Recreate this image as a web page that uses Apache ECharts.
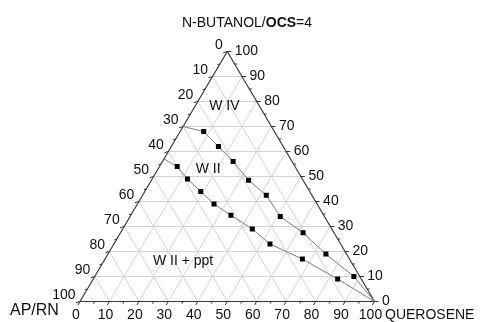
<!DOCTYPE html>
<html><head><meta charset="utf-8">
<script src="https://cdn.jsdelivr.net/npm/echarts@6/dist/echarts.min.js"></script>
<style>html,body{margin:0;padding:0;background:#fff}#c{width:480px;height:322px}</style>
</head><body><div id="c"></div>
<script>
// ---- data ----
const titleParts = ['N-BUTANOL/', 'OCS', '=4'];
const bottomAxisName = 'QUEROSENE';
const leftAxisName = 'AP/RN';
const majorTicks = [0, 10, 20, 30, 40, 50, 60, 70, 80, 90, 100];
const minorTicks = [5, 15, 25, 35, 45, 55, 65, 75, 85, 95];
const gridLevels = [10, 20, 30, 40, 50, 60, 70, 80, 90];
// tie lines: querosene % (bottom axis) and n-butanol/OCS % (right axis); AP/RN = 100 - both
const upperQuerosene = [0, 8, 16, 24, 33, 42, 51, 62, 74, 88, 100];
const upperButanol   = [70, 68, 62, 56, 48.5, 42.5, 34, 27.5, 19, 10, 0];
const lowerQuerosene = [0, 6, 12, 19, 26, 34, 44, 53, 67, 83, 100];
const lowerButanol   = [57, 54, 49, 44, 39, 34.5, 29, 23, 17, 9, 0];
const regionNames = ['W IV', 'W II', 'W II + ppt'];
const regionQuerosene = [10, 17, 27];
const regionButanol = [78, 53, 16];

// ---- ternary -> cartesian (x = q + b/2, y = b) ----
function toXY(q, b) { return [q + b / 2, b]; }

const FONT = '"Liberation Sans", Arial, sans-serif';
const TXT = '#111111';

// grid lines
const gridLines = [];
gridLevels.forEach(v => {
  gridLines.push({coords: [toXY(0, v), toXY(100 - v, v)]});      // const top
  gridLines.push({coords: [toXY(v, 0), toXY(v, 100 - v)]});      // const querosene
  gridLines.push({coords: [toXY(100 - v, 0), toXY(0, 100 - v)]}); // const AP/RN
});
const edges = [
  {coords: [toXY(0, 0), toXY(100, 0)]},
  {coords: [toXY(100, 0), toXY(0, 100)]},
  {coords: [toXY(0, 100), toXY(0, 0)]}
];

function seriesData(qs, bs) {
  return qs.map((q, i) => {
    const item = {value: toXY(q, bs[i])};
    if (i === 0 || i === qs.length - 1) item.symbol = 'none';
    return item;
  });
}

function axisSeries(axis) {
  const data = majorTicks.map(v => [v, 1]).concat(minorTicks.map(v => [v, 0]));
  return {
    type: 'custom', coordinateSystem: 'cartesian2d', silent: true, clip: false, z: 5,
    data: data,
    renderItem: function (params, api) {
      const v = api.value(0), major = api.value(1) === 1;
      let p, dir, lx, ly, align;
      if (axis === 'bottom') p = toXY(v, 0);
      else if (axis === 'right') p = toXY(100 - v, v);
      else p = toXY(0, 100 - v);
      const pt = api.coord(p);
      const len = major ? 4 : 2.5;
      if (axis === 'bottom') { dir = [-0.51, 0.86]; }
      else if (axis === 'right') { dir = [1, 0]; }
      else { dir = [-1, 0.3]; }
      const children = [{
        type: 'line',
        shape: {x1: pt[0], y1: pt[1], x2: pt[0] + dir[0] * len, y2: pt[1] + dir[1] * len},
        style: {stroke: '#333', lineWidth: 1}
      }];
      if (major) {
        if (axis === 'bottom') { lx = pt[0] - 4; ly = pt[1] + 14; align = 'center'; }
        else if (axis === 'right') { lx = pt[0] + 7.5; ly = pt[1]; align = 'left'; }
        else { lx = pt[0] - 4.5; ly = pt[1] - 6.5; align = 'right'; }
        children.push({
          type: 'text', x: lx, y: ly,
          style: {text: String(v), fill: TXT, font: '14px ' + FONT,
                  align: align, textAlign: align, verticalAlign: 'middle', textVerticalAlign: 'middle'}
        });
      }
      return {type: 'group', children: children};
    }
  };
}

const chart = echarts.init(document.getElementById('c'), null, {renderer: 'canvas'});
chart.setOption({
  animation: false,
  backgroundColor: '#ffffff',
  title: {
    text: '{n|' + titleParts[0] + '}{b|' + titleParts[1] + '}{n|' + titleParts[2] + '}',
    left: 177, top: 10,
    textStyle: {
      rich: {
        n: {fontSize: 14, fontFamily: FONT, color: TXT, fontWeight: 'normal', lineHeight: 16},
        b: {fontSize: 14, fontFamily: FONT, color: TXT, fontWeight: 'bold', lineHeight: 16}
      }
    }
  },
  grid: {left: 80, right: 105.5, top: 51.5, bottom: 20.5, containLabel: false},
  xAxis: {type: 'value', min: 0, max: 100, show: false},
  yAxis: {type: 'value', min: 0, max: 100, show: false},
  graphic: [
    {type: 'text', left: 10, top: 303, style: {text: leftAxisName, fill: TXT, font: '16px ' + FONT}},
    {type: 'text', left: 385, top: 308, style: {text: bottomAxisName, fill: TXT, font: '14px ' + FONT}}
  ],
  series: [
    {type: 'lines', coordinateSystem: 'cartesian2d', silent: true, z: 1,
     lineStyle: {color: '#d4d4d4', width: 1, opacity: 1}, data: gridLines},
    {type: 'lines', coordinateSystem: 'cartesian2d', silent: true, z: 2,
     lineStyle: {color: '#3a3a3a', width: 1.2, opacity: 1}, data: edges},
    axisSeries('bottom'), axisSeries('right'), axisSeries('left'),
    {type: 'line', name: 'upper', data: seriesData(upperQuerosene, upperButanol), z: 3,
     symbol: 'rect', symbolSize: 5, showAllSymbol: true,
     lineStyle: {color: '#808080', width: 1}, itemStyle: {color: '#000'}},
    {type: 'line', name: 'lower', data: seriesData(lowerQuerosene, lowerButanol), z: 3,
     symbol: 'rect', symbolSize: 5, showAllSymbol: true,
     lineStyle: {color: '#808080', width: 1}, itemStyle: {color: '#000'}},
    {type: 'custom', coordinateSystem: 'cartesian2d', silent: true, clip: false, z: 6,
     data: regionNames.map((n, i) => toXY(regionQuerosene[i], regionButanol[i]).concat([i])),
     renderItem: function (params, api) {
       const pt = api.coord([api.value(0), api.value(1)]);
       return {type: 'text', x: pt[0], y: pt[1],
         style: {text: regionNames[api.value(2)], fill: TXT, font: '14px ' + FONT,
                 align: 'center', textAlign: 'center', verticalAlign: 'middle', textVerticalAlign: 'middle'}};
     }}
  ]
});
</script></body></html>
